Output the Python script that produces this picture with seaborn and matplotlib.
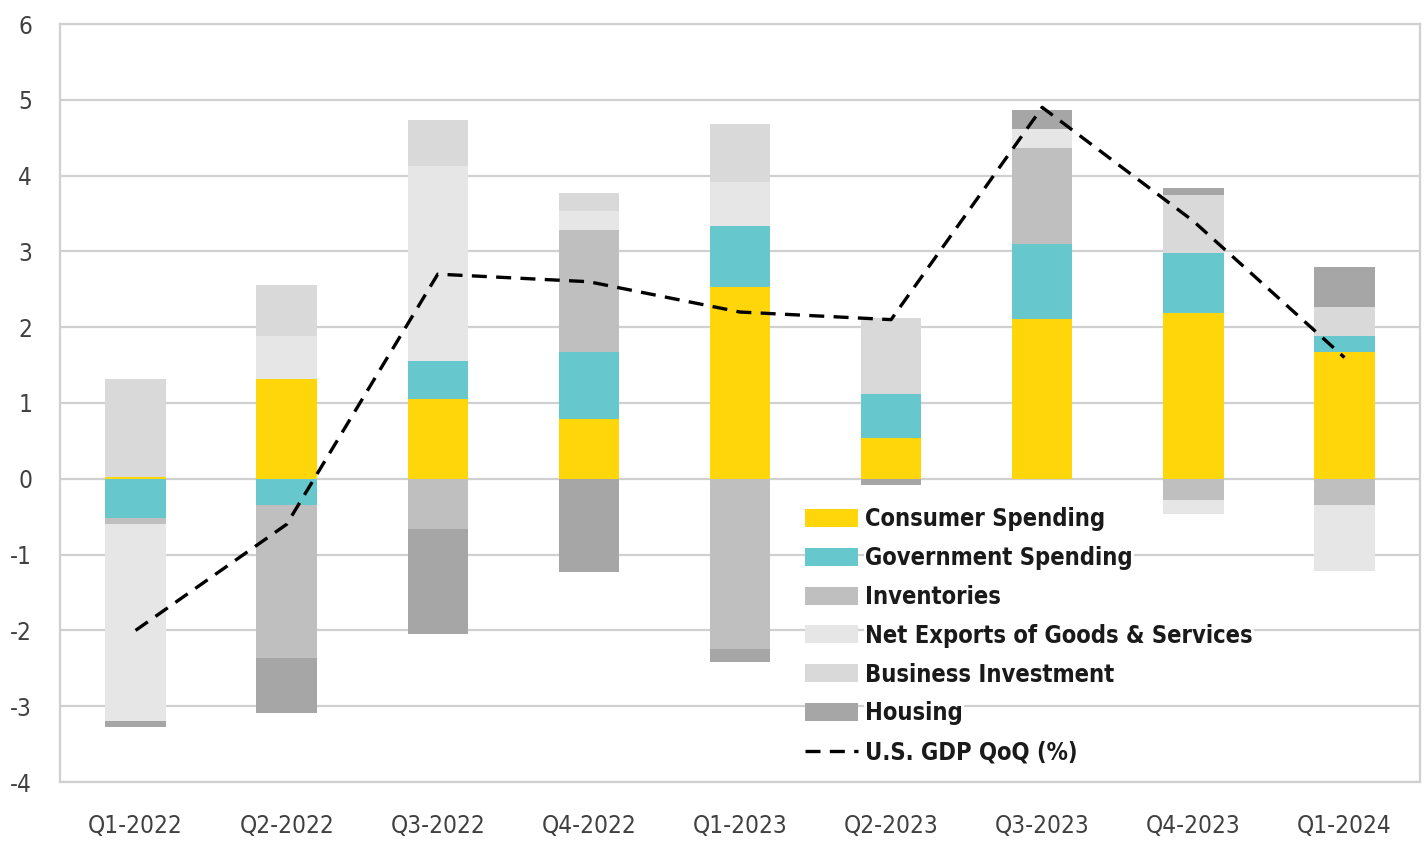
import matplotlib
matplotlib.use("Agg")
import matplotlib.pyplot as plt
import numpy as np
import pandas as pd
import seaborn as sns

quarters = ["Q1-2022", "Q2-2022", "Q3-2022", "Q4-2022", "Q1-2023",
            "Q2-2023", "Q3-2023", "Q4-2023", "Q1-2024"]
consumer = [0.02, 1.32, 1.05, 0.79, 2.53, 0.54, 2.11, 2.19, 1.67]
government = [-0.52, -0.34, 0.50, 0.88, 0.81, 0.58, 0.99, 0.79, 0.21]
inventories = [-0.07, -2.03, -0.66, 1.61, -2.24, 0.00, 1.27, -0.28, -0.35]
net_exports = [-2.60, 0.57, 2.58, 0.25, 0.58, 0.00, 0.24, -0.19, -0.86]
business_inv = [1.30, 0.67, 0.61, 0.24, 0.76, 1.00, 0.00, 0.76, 0.39]
housing = [-0.08, -0.72, -1.39, -1.23, -0.18, -0.08, 0.25, 0.09, 0.52]
gdp_qoq = [-2.0, -0.6, 2.7, 2.6, 2.2, 2.1, 4.9, 3.4, 1.6]

series = [
    ("Consumer Spending", consumer, "#FFD60A"),
    ("Government Spending", government, "#66C8CC"),
    ("Inventories", inventories, "#BFBFBF"),
    ("Net Exports of Goods & Services", net_exports, "#E6E6E6"),
    ("Business Investment", business_inv, "#D9D9D9"),
    ("Housing", housing, "#A6A6A6"),
]

sns.set_style("white")
plt.rcParams["font.family"] = ["DejaVu Sans"]
plt.rcParams["font.stretch"] = "condensed"
plt.rcParams["axes.unicode_minus"] = False

fig = plt.figure(figsize=(14.27, 8.43), dpi=100)
ax = fig.add_axes([60 / 1427, 1 - 782 / 843, 1360 / 1427, 758 / 843])

grid_col = "#D0D0D0"
ax.set_axisbelow(True)
ax.yaxis.grid(True, color=grid_col, linewidth=1.6)

# stack positives up from 0 and negatives down from 0
pos_base = np.zeros(len(quarters))
neg_base = np.zeros(len(quarters))
for name, vals, col in series:
    v = np.array(vals, dtype=float)
    bottom = np.where(v >= 0, pos_base, neg_base)
    sns.barplot(x=quarters, y=v, bottom=bottom, order=quarters, color=col,
                saturation=1, width=0.4, errorbar=None, label=name,
                linewidth=0, ax=ax)
    pos_base = pos_base + np.clip(v, 0, None)
    neg_base = neg_base + np.clip(v, None, 0)

sns.lineplot(x=quarters, y=gdp_qoq, color="black", linewidth=2.4,
             linestyle=(0, (4.5, 2.8)), label="U.S. GDP QoQ (%)", ax=ax)

ax.set_xlim(-0.5, len(quarters) - 0.5)
ax.set_ylim(-4, 6)
ax.set_yticks(range(-4, 7))
ax.set_xlabel("")
ax.set_ylabel("")
ax.tick_params(axis="both", length=0, labelsize=17.5, labelcolor="#404040")
ax.tick_params(axis="y", pad=20)
ax.tick_params(axis="x", pad=23)
for s in ax.spines.values():
    s.set_color(grid_col)
    s.set_linewidth(1.6)

handles, labels = ax.get_legend_handles_labels()
order = [labels.index(n) for n, _, _ in series] + [labels.index("U.S. GDP QoQ (%)")]
leg = ax.legend([handles[i] for i in order], [labels[i] for i in order],
                loc="upper left", bbox_to_anchor=((805 - 60) / 1360, (782 - 507) / 758),
                frameon=False, borderpad=0, handlelength=2.25,
                handleheight=0.8, handletextpad=0.3, labelspacing=0.63,
                borderaxespad=0,
                prop={"weight": "bold", "size": 17, "stretch": "condensed"})
for t in leg.get_texts():
    t.set_color("#1a1a1a")
    t.set_bbox(dict(facecolor="white", edgecolor="none", pad=1))

fig.savefig("out.png", dpi=100)
